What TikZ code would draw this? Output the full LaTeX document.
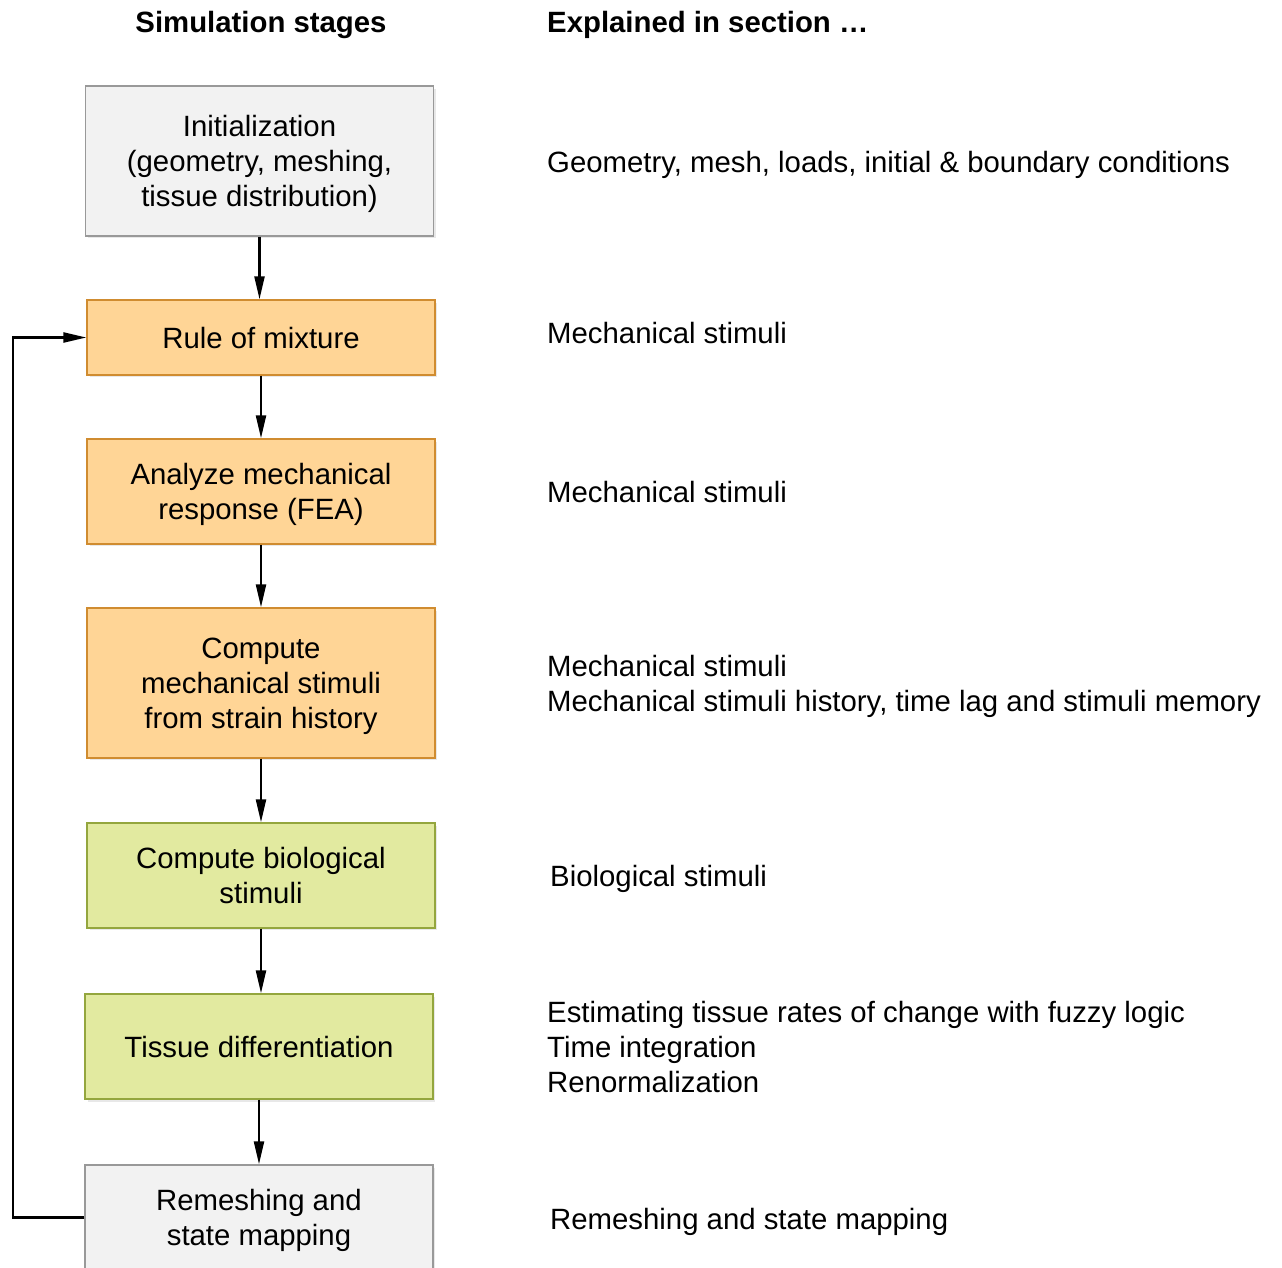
\documentclass[tikz,border=0pt]{standalone}
\usepackage{fontspec}
\setmainfont{Liberation Sans}
\usetikzlibrary{arrows.meta,shadows}

\definecolor{greyfill}{RGB}{242,242,242}
\definecolor{greyline}{RGB}{153,153,153}
\definecolor{orangefill}{RGB}{255,213,150}
\definecolor{orangeline}{RGB}{208,140,48}
\definecolor{greenfill}{RGB}{226,234,160}
\definecolor{greenline}{RGB}{148,166,62}
\newcommand{\linestrut}{\rule[-0.22em]{0pt}{1.156em}}

\begin{document}
\begin{tikzpicture}[x=0.02cm,y=-0.02cm,
    >={Triangle[length=0.46cm,width=0.2cm]},
    every node/.style={font=\fontsize{16.7pt}{19.92pt}\selectfont,
      execute at begin node=\linestrut,execute at end node=\linestrut},
    stage/.style={draw,line width=0.8pt,align=center,minimum width=6.96cm,
      drop shadow={shadow xshift=0.05cm,shadow yshift=-0.05cm,opacity=0.18}},
    greystage/.style={stage,fill=greyfill,draw=greyline},
    orangestage/.style={stage,fill=orangefill,draw=orangeline},
    greenstage/.style={stage,fill=greenfill,draw=greenline},
    section/.style={anchor=west,align=left},
    flow/.style={->,line width=1.3pt}]
  % Page size
  \useasboundingbox (0,0) rectangle (1282,1268);
  %
  % Headings
  \node[font=\fontsize{16.7pt}{19.92pt}\selectfont\bfseries] (hstages) at (261,22) {Simulation stages};
  \node[font=\fontsize{16.7pt}{19.92pt}\selectfont\bfseries,anchor=west] (hsection) at (541,22) {Explained in section …};
  %
  % Stages (strut in first line keeps multi-line text centred on its lines)
  \node[greystage,minimum height=3cm] (init) at (259.5,161)
    {\linestrut Initialization\\(geometry, meshing,\\tissue distribution)};
  \node[orangestage,minimum height=1.5cm] (rule) at (261,337.5) {Rule of mixture};
  \node[orangestage,minimum height=2.1cm] (fea) at (261,491.5)
    {\linestrut Analyze mechanical\\response (FEA)};
  \node[orangestage,minimum height=3cm] (mech) at (261,683)
    {\linestrut Compute\\mechanical stimuli\\from strain history};
  \node[greenstage,minimum height=2.1cm] (bio) at (261,875.5)
    {\linestrut Compute biological\\stimuli};
  \node[greenstage,minimum height=2.1cm] (tissue) at (259,1046.5)
    {Tissue differentiation};
  \node[greystage,minimum height=2.1cm] (remesh) at (259,1217.5)
    {\linestrut Remeshing and\\state mapping};
  %
  % Flow arrows
  \draw[flow] (init) -- (init|-rule.north);
  \draw[flow] (rule) -- (rule.south|-fea.north);
  \draw[flow] (fea) -- (fea.south|-mech.north);
  \draw[flow] (mech) -- (mech.south|-bio.north);
  \draw[flow] (bio) -- (bio.south|-tissue.north);
  \draw[flow] (tissue) -- (tissue.south|-remesh.north);
  %
  % Feedback loop
  \coordinate (loop) at (13,0);
  \draw[flow] (remesh.west) -| (loop|-rule.west) -- (rule.west);
  %
  % Sections
  \node[section] (sinit) at (541,162) {Geometry, mesh, loads, initial \& boundary conditions};
  \node[section] (srule) at (541,333) {Mechanical stimuli};
  \node[section] (sfea) at (541,492) {Mechanical stimuli};
  \node[section] (smech) at (541,683.5)
    {\linestrut Mechanical stimuli\\Mechanical stimuli history, time lag and stimuli memory};
  \node[section] (sbio) at (544,876) {Biological stimuli};
  \node[section] (stissue) at (541,1047)
    {\linestrut Estimating tissue rates of change with fuzzy logic\\Time integration\\Renormalization};
  \node[section] (sremesh) at (544,1219) {Remeshing and state mapping};
\end{tikzpicture}
\end{document}
